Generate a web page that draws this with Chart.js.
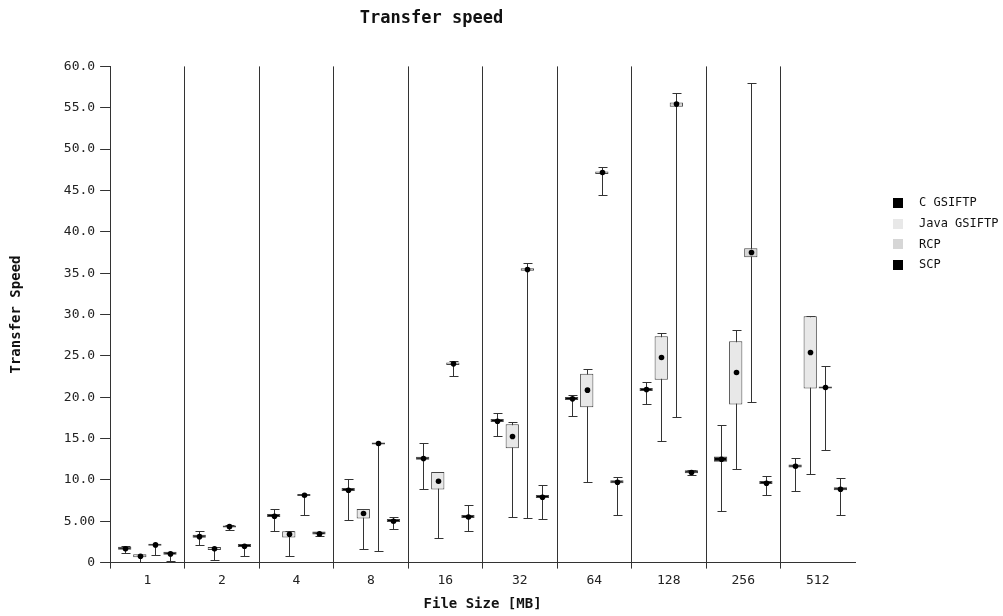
<!DOCTYPE html>
<html>
<head>
<meta charset="utf-8">
<title>Transfer speed</title>
<script src="https://cdn.jsdelivr.net/npm/chart.js@4"></script>
<style>
  html, body { margin: 0; padding: 0; background: #fff; }
  #wrap { width: 1003px; height: 616px; position: relative; }
</style>
</head>
<body>
<div id="wrap"><canvas id="myChart"></canvas></div>
<script>
// file sizes on the x axis
const fileSizes = ['1', '2', '4', '8', '16', '32', '64', '128', '256', '512'];

// each row: [min, q1, q3, max, mean]
const cGsiftp = [
	[1.13, 1.55, 1.75, 1.97, 1.66],
	[2.14, 2.99, 3.27, 3.79, 3.14],
	[3.79, 5.5, 5.7, 6.49, 5.6],
	[5.12, 8.65, 8.85, 10.08, 8.75],
	[8.87, 12.45, 12.7, 14.43, 12.58],
	[15.36, 17.0, 17.25, 18.06, 17.1],
	[17.74, 19.65, 19.95, 20.32, 19.8],
	[19.15, 20.75, 21.1, 21.81, 20.93],
	[6.21, 12.18, 12.82, 16.69, 12.5],
	[8.71, 11.5, 11.8, 12.66, 11.65]
];
const javaGsiftp = [
	[0.12, 0.65, 0.97, 0.97, 0.76],
	[0.36, 1.53, 1.85, 1.85, 1.66],
	[0.81, 3.02, 3.79, 3.79, 3.43],
	[1.69, 5.32, 6.49, 6.49, 5.93],
	[2.94, 8.83, 10.97, 10.97, 9.84],
	[5.56, 13.83, 16.73, 16.97, 15.24],
	[9.8, 18.79, 22.83, 23.43, 20.85],
	[14.76, 22.1, 27.37, 27.82, 24.8],
	[11.29, 19.11, 26.77, 28.15, 22.98],
	[10.68, 21.05, 29.79, 29.79, 25.4]
];
const rcp = [
	[0.97, 2.05, 2.25, 2.26, 2.14],
	[3.99, 4.25, 4.45, 4.52, 4.35],
	[5.73, 8.05, 8.25, 8.31, 8.15],
	[1.37, 14.27, 14.52, 14.52, 14.4],
	[22.54, 23.9, 24.2, 24.35, 24.03],
	[5.44, 35.3, 35.6, 36.2, 35.44],
	[44.51, 47.0, 47.3, 47.82, 47.17],
	[17.62, 55.12, 55.64, 56.77, 55.44],
	[19.39, 36.93, 38.02, 57.98, 37.5],
	[13.59, 21.05, 21.3, 23.79, 21.17]
];
const scp = [
	[0.16, 0.95, 1.15, 1.21, 1.05],
	[0.77, 1.9, 2.05, 2.1, 1.98],
	[3.22, 3.4, 3.55, 3.63, 3.47],
	[4.11, 4.9, 5.1, 5.48, 5.0],
	[3.79, 5.4, 5.65, 6.94, 5.52],
	[5.28, 7.8, 8.0, 9.35, 7.9],
	[5.77, 9.6, 9.85, 10.4, 9.71],
	[10.56, 10.8, 11.0, 11.21, 10.89],
	[8.15, 9.5, 9.7, 10.52, 9.6],
	[5.77, 8.75, 9.0, 10.24, 8.87]
];

const seriesNames = ['C GSIFTP', 'Java GSIFTP', 'RCP', 'SCP'];
const seriesColors = ['#000000', '#e8e8e8', '#d6d6d6', '#000000'];
const seriesMinBox = [3, 3, 2, 3];
const seriesStats = [cGsiftp, javaGsiftp, rcp, scp];

const yTicks = [0, 5, 10, 15, 20, 25, 30, 35, 40, 45, 50, 55, 60];

const MONO = '"DejaVu Sans Mono", monospace';
const LINE = '#333';

// whiskers go under the boxes, mean dots on top
const boxPlot = {
	id: 'boxPlot',
	beforeDatasetsDraw(chart) {
		const ctx = chart.ctx, y = chart.scales.y;
		ctx.save();
		ctx.strokeStyle = LINE;
		ctx.lineWidth = 1;
		chart.data.datasets.forEach((ds, di) => {
			const meta = chart.getDatasetMeta(di);
			meta.data.forEach((bar, i) => {
				const s = ds.stats[i];
				const x = Math.round(bar.x) + 0.5;
				const yMin = Math.round(y.getPixelForValue(s[0])) + 0.5;
				const yMax = Math.round(y.getPixelForValue(s[3])) + 0.5;
				ctx.beginPath();
				ctx.moveTo(x, yMin); ctx.lineTo(x, yMax);
				ctx.moveTo(x - 4, yMin); ctx.lineTo(x + 5, yMin);
				ctx.moveTo(x - 4, yMax); ctx.lineTo(x + 5, yMax);
				ctx.stroke();
			});
		});
		ctx.restore();
	},
	afterDatasetsDraw(chart) {
		const ctx = chart.ctx, y = chart.scales.y;
		ctx.save();
		ctx.fillStyle = '#000';
		chart.data.datasets.forEach((ds, di) => {
			const meta = chart.getDatasetMeta(di);
			meta.data.forEach((bar, i) => {
				const s = ds.stats[i];
				ctx.beginPath();
				ctx.arc(Math.round(bar.x) + 0.5, y.getPixelForValue(s[4]), 2.8, 0, Math.PI * 2);
				ctx.fill();
			});
		});
		ctx.restore();
	}
};

// legend drawn by hand so it can sit where the original has it
const sideLegend = {
	id: 'sideLegend',
	afterDraw(chart) {
		const ctx = chart.ctx;
		ctx.save();
		ctx.font = '12px ' + MONO;
		ctx.textBaseline = 'middle';
		chart.data.datasets.forEach((ds, i) => {
			const cy = 203 + i * 20.7;
			ctx.fillStyle = ds.backgroundColor;
			ctx.fillRect(893, Math.round(cy) - 5, 10, 10);
			ctx.fillStyle = '#111';
			ctx.fillText(ds.label, 919, cy);
		});
		ctx.restore();
	}
};

var ctx = document.getElementById('myChart').getContext('2d');
var chart = new Chart(ctx, {
	type: 'bar',
	data: {
		labels: fileSizes,
		datasets: seriesNames.map((name, k) => ({
			label: name,
			data: seriesStats[k].map(s => [s[1], s[2]]),
			stats: seriesStats[k],
			backgroundColor: seriesColors[k],
			borderColor: '#444',
			borderWidth: 1,
			borderSkipped: false,
			minBarLength: seriesMinBox[k],
			categoryPercentage: 0.81,
			barPercentage: 0.88
		}))
	},
	options: {
		responsive: true,
		maintainAspectRatio: false,
		animation: false,
		layout: { padding: { left: 8, right: 148, top: 6, bottom: 3 } },
		plugins: {
			legend: { display: false },
			tooltip: { enabled: false },
			title: {
				display: true,
				text: 'Transfer speed',
				color: '#111',
				font: { family: MONO, size: 17, weight: 'bold' },
				padding: { top: 2, bottom: 38 }
			}
		},
		scales: {
			x: {
				offset: true,
				grid: {
					offset: true,
					drawOnChartArea: true,
					tickLength: 6,
					// no closing line on the right edge
					color: c => c.type === 'tick' ? LINE : 'rgba(0,0,0,0)'
				},
				border: { display: true, color: LINE },
				ticks: { color: '#222', font: { family: MONO, size: 13 }, padding: 4 },
				title: {
					display: true,
					text: 'File Size [MB]',
					color: '#111',
					font: { family: MONO, size: 14, weight: 'bold' },
					padding: { top: 4, bottom: 0 }
				}
			},
			y: {
				min: 0,
				max: 60,
				afterBuildTicks: axis => { axis.ticks = yTicks.map(v => ({ value: v })); },
				grid: { drawOnChartArea: false, tickLength: 10, color: LINE },
				border: { display: true, color: LINE },
				ticks: {
					color: '#222',
					font: { family: MONO, size: 13 },
					padding: 5,
					callback: v => v === 0 ? '0' : (v === 5 ? '5.00' : v.toFixed(1))
				},
				title: {
					display: true,
					text: 'Transfer Speed',
					color: '#111',
					font: { family: MONO, size: 14, weight: 'bold' },
					padding: { top: 0, bottom: 34 }
				}
			}
		}
	},
	plugins: [boxPlot, sideLegend]
});
</script>
</body>
</html>
